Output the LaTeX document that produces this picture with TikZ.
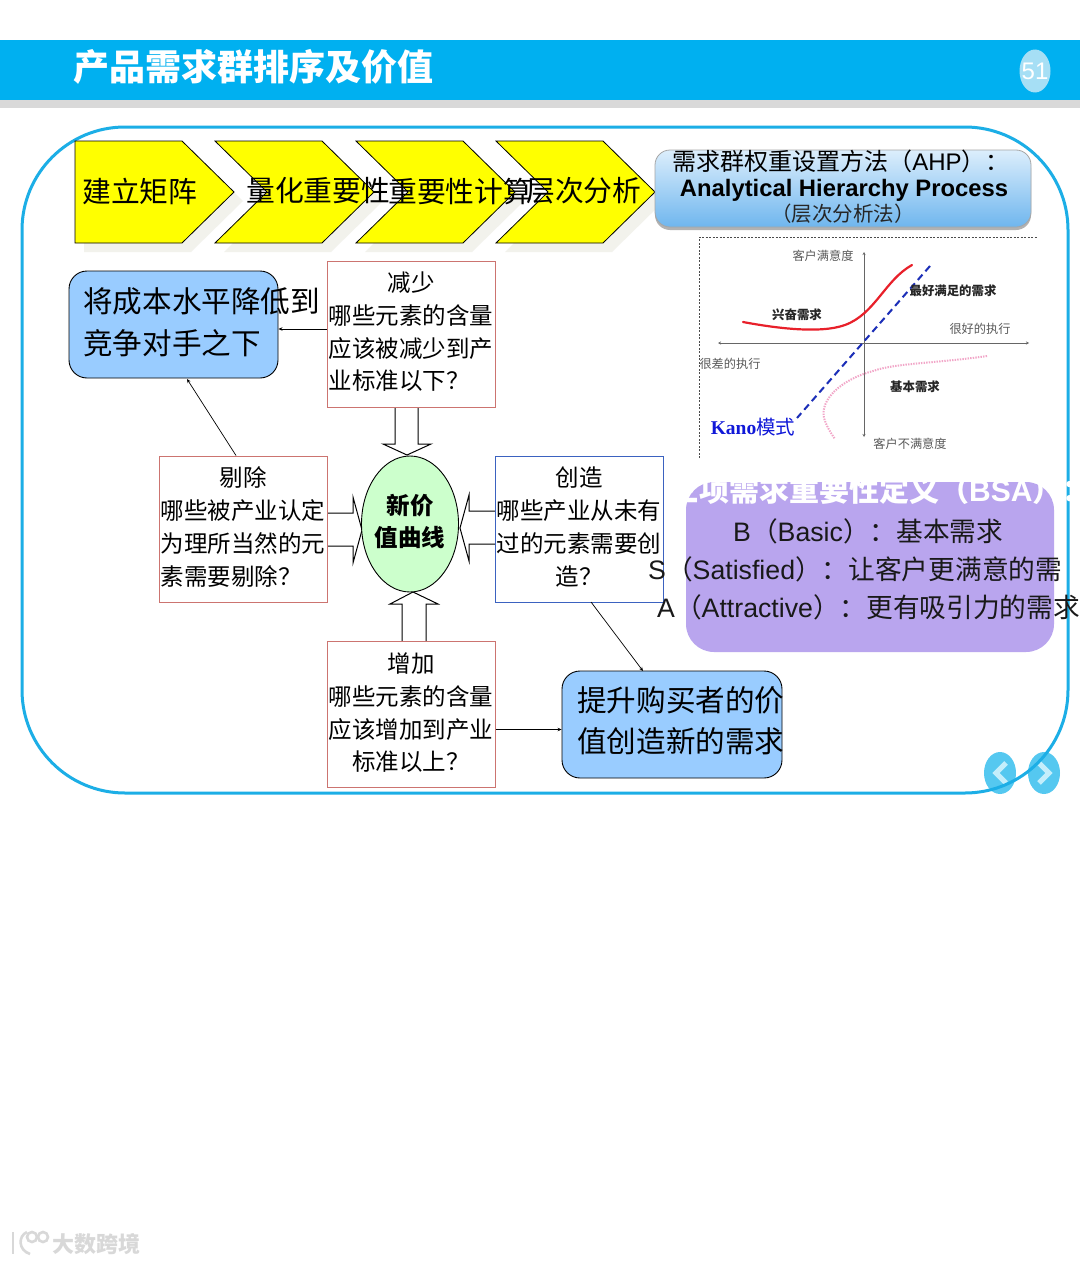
\documentclass[tikz,border=0pt]{standalone}
\usepackage{fontspec}
\setmainfont{Liberation Sans}
\newfontfamily\cjk{Noto Sans CJK SC}
\newfontfamily\latser{Liberation Serif}
\usetikzlibrary{shapes.geometric,arrows.meta}
\newcommand{\fsz}[2]{\fontsize{#1}{#2}\selectfont}
\newcommand{\zhtxt}[1]{{\cjk #1}}
\definecolor{headblue}{HTML}{00B0F0}
\definecolor{headgray}{HTML}{D9D9D9}
\definecolor{framecol}{HTML}{1CAEE6}
\definecolor{pagecol}{HTML}{A6DFF5}
\definecolor{navcol}{HTML}{55C8F0}
\definecolor{navmark}{HTML}{C4EEFB}
\definecolor{boxred}{HTML}{CC7470}
\definecolor{boxblue}{HTML}{3B62C0}
\definecolor{skyfill}{HTML}{99CCFF}
\definecolor{purplefill}{HTML}{B9A5EE}
\definecolor{greenfill}{HTML}{CCFFCC}
\definecolor{shadowcol}{HTML}{F2F2EC}
\definecolor{wmgray}{HTML}{D8D8D8}
\definecolor{chevyellow}{HTML}{FFFF00}
\definecolor{ahptop}{HTML}{DCEEFC}
\definecolor{ahpbot}{HTML}{6FB6EE}
\definecolor{curvered}{HTML}{E8202A}
\definecolor{curveblue}{HTML}{1C2FB8}
\definecolor{curvepink}{HTML}{F2A6C8}
\definecolor{kanoblue}{HTML}{1018D8}
\tikzset{
  chevronshape/.style={draw=black,fill=chevyellow,line width=0.8pt},
  chevshadow/.style={fill=shadowcol},
  chevtext/.style={font=\cjk\fsz{28.8}{33},inner sep=0pt,text=black},
  qbox/.style={draw=#1,line width=1pt,minimum width=168pt,minimum height=146pt,inner sep=0pt},
  qtext/.style={font=\cjk\fsz{23.5}{32.7},align=center,inner sep=0pt,text width=170pt},
  skybox/.style={draw=black,line width=0.9pt,fill=skyfill,rounded corners=18pt,inner sep=0pt},
  skytext/.style={font=\cjk\fsz{29.6}{41.5},align=left,inner sep=0pt,anchor=west},
  blockarrow/.style={draw=black,fill=white,line width=1pt,line join=miter},
  thinarrow/.style={draw=black,line width=0.7pt,-{Stealth[length=4pt,width=3.5pt]}},
  kanolabel/.style={font=\cjk\fsz{12.2}{14},text=black!65,inner sep=0pt},
  kanobold/.style={font=\cjk\bfseries\fsz{12.4}{14},text=black!85,inner sep=0pt},
  kanoaxis/.style={draw=black!60,line width=1pt,{Stealth[length=3pt,width=3pt]}-{Stealth[length=3pt,width=3pt]}},
  purpletext/.style={font=\fsz{26.7}{30},inner sep=0pt,text=black!90,anchor=west},
}
\begin{document}
\begin{tikzpicture}[x=1pt,y=-1pt]
\useasboundingbox (0,0) rectangle (1080,1263);
\fill[white] (0,0) rectangle (1080,1263);
% header
\fill[headgray] (0,100) rectangle (1080,108);
\fill[headblue] (0,40) rectangle (1080,100);
\node[font=\cjk\bfseries\fsz{36}{40},text=white,anchor=west,inner sep=0pt] (title) at (73,67) {产品需求群排序及价值};
\node[ellipse,fill=pagecol,minimum width=31pt,minimum height=43pt,inner sep=-6pt,text=white,font=\fsz{24}{26}] (pagenum) at (1035,71) {51};
% nav buttons beneath frame
\node[ellipse,fill=navcol,minimum width=32pt,minimum height=42pt,inner sep=0pt] (navl) at (1000,773) {};
\node[ellipse,fill=navcol,minimum width=32pt,minimum height=42pt,inner sep=0pt] (navr) at (1044,773) {};
\draw[navmark,line width=5pt] (1006,763) -- (996,773) -- (1006,783);
\draw[navmark,line width=5pt] (1039,763) -- (1049,773) -- (1039,783);
% main frame
\draw[framecol,line width=3pt,rounded corners=103pt] (22,127) rectangle (1068,793);
% chevrons
\fill[chevshadow] (84,150) -- (191,150) -- (243,201) -- (191,252) -- (84,252) -- cycle;
\foreach \d in {0,141,281}{
  \fill[chevshadow,xshift=\d pt] (224,150) -- (331,150) -- (383,201) -- (331,252) -- (224,252) -- (276,201) -- cycle;
}
\draw[chevronshape] (75,141) -- (182,141) -- (234,192) -- (182,243) -- (75,243) -- cycle;
\foreach \d in {0,141,281}{
  \draw[chevronshape,xshift=\d pt] (215,141) -- (322,141) -- (374,192) -- (322,243) -- (215,243) -- (267,192) -- cycle;
}
\node[chevtext,anchor=west] (c1) at (82,191) {建立矩阵};
\node[chevtext,anchor=west] (c2) at (246,191) {量化重要性};
\node[chevtext,anchor=west] (c3) at (388,191) {重要性计算};
\node[chevtext,anchor=west] (c4) at (526,191) {层次分析};
% AHP box
\fill[black!30,rounded corners=15pt] (655,153) rectangle (1031,230);
\draw[draw=black!35,top color=ahptop,bottom color=ahpbot,rounded corners=15pt,line width=0.8pt] (655,150) rectangle (1031,227);
\node[font=\fsz{24}{26},inner sep=0pt] (ahp1) at (841,161) {{\cjk 需求群权重设置方法（}AHP{\cjk ）：}};
\node[font=\bfseries\fsz{23.8}{27},inner sep=0pt] (ahp2) at (844,190) {Analytical Hierarchy Process};
\node[font=\cjk\fsz{20.5}{22},inner sep=0pt,text=black!85] (ahp3) at (843,214) {（层次分析法）};
% Kano
\draw[black!70,line width=0.6pt,dash pattern=on 2pt off 1.5pt] (699,458) -- (699,237) -- (1038,237);
\coordinate (axL) at (718,343);
\coordinate (axR) at (1029,343);
\coordinate (axT) at (864,252);
\coordinate (axB) at (864,437);
\draw[kanoaxis] (axL) -- (axR);
\draw[kanoaxis] (axT) -- (axB);
\draw[curvered,line width=2.2pt,line cap=round] (743,322) .. controls (775,328) and (820,334) .. (845,325) .. controls (875,314) and (885,280) .. (912,265);
\draw[curveblue,line width=2pt,dash pattern=on 7pt off 4.5pt] (930,266) -- (797,418);
\draw[curvepink,line width=2pt,dash pattern=on 1.4pt off 1.2pt] (987,356) .. controls (940,363) and (895,363) .. (873,371) .. controls (840,380) and (820,400) .. (824,418) .. controls (826,425) and (830,432) .. (835,439);
\node[kanolabel] (k1) at (823,256) {客户满意度};
\node[kanobold] (k2) at (953,291) {最好满足的需求};
\node[kanobold] (k3) at (797,315) {兴奋需求};
\node[kanolabel] (k4) at (980,329) {很好的执行};
\node[kanolabel] (k5) at (730,364) {很差的执行};
\node[kanobold] (k6) at (915,387) {基本需求};
\node[font=\fsz{19.5}{22},text=kanoblue,inner sep=0pt] (k7) at (753,427) {{\latser\bfseries Kano}{\cjk 模式}};
\node[kanolabel] (k8) at (910,444) {客户不满意度};
% block arrows
\draw[blockarrow] (395,407) -- (395,444) -- (383,444) -- (407,455) -- (431,444) -- (418,444) -- (418,407);
\draw[blockarrow] (402,641) -- (402,604) -- (390,604) -- (413,592) -- (438,604) -- (426,604) -- (426,641);
\draw[blockarrow] (327,513) -- (353,513) -- (353,497) -- (362,530) -- (353,563) -- (353,546) -- (327,546);
\draw[blockarrow] (495,511) -- (469,511) -- (469,495) -- (460,528) -- (469,561) -- (469,544) -- (495,544);
% centre ellipse
\node[ellipse,draw=black,fill=greenfill,line width=0.9pt,minimum width=97pt,minimum height=136pt,inner sep=0pt] (curve) at (410,524) {};
\node[font=\cjk\bfseries\fsz{23.5}{32},align=center,inner sep=0pt] (curvetext) at (410,521) {新价\\值曲线};
% question boxes
\node[qbox=boxred] (reduce) at (411,334) {};
\node[qtext] (reducet) at (411,332) {减少\\哪些元素的含量\\应该被减少到产\\\makebox[165pt][l]{业标准以下？}};
\node[qbox=boxred] (elim) at (243,529) {};
\node[qtext] (elimt) at (243,527) {剔除\\哪些被产业认定\\为理所当然的元\\\makebox[165pt][l]{素需要剔除？}};
\node[qbox=boxblue] (create) at (579,529) {};
\node[qtext] (createt) at (579,527) {创造\\哪些产业从未有\\过的元素需要创\\造？};
\node[qbox=boxred] (raise) at (411,714.5) {};
\node[qtext] (raiset) at (411,713) {增加\\哪些元素的含量\\应该增加到产业\\标准以上？};
% sky boxes
\node[skybox,minimum width=209pt,minimum height=107pt] (costbox) at (173.5,324.5) {};
\node[skytext] (costtext) at (83,322) {将成本水平降低到\\竞争对手之下};
\node[skybox,minimum width=220pt,minimum height=107pt] (valuebox) at (672,724.5) {};
\node[skytext] (valuetext) at (577,720.5) {提升购买者的价\\值创造新的需求};
% connectors
\draw[thinarrow] ([yshift=5pt]reduce.west) -- ([yshift=5pt]reduce.west -| costbox.east);
\draw[thinarrow] (elim.north -| 236,0) -- (187,379);
\draw[thinarrow] ([yshift=-15pt]raise.east) -- ([yshift=-15pt]raise.east -| valuebox.west);
\draw[thinarrow] (591,602) -- (643,671);
% purple box
\fill[purplefill,rounded corners=28pt] (686,482) rectangle (1054,652);
\node[font=\bfseries\fsz{30}{32},text=white,inner sep=0pt,anchor=west] (bsa0) at (669,490) {{\cjk\bfseries 三项需求重要性定义（}BSA{\cjk\bfseries ）：}};
\node[purpletext] (bsa1) at (733,531) {B\zhtxt{（}Basic\zhtxt{）：基本需求}};
\node[purpletext] (bsa2) at (648,569) {S\zhtxt{（}Satisfied\zhtxt{）：让客户更满意的需}};
\node[purpletext] (bsa3) at (657,607) {A\zhtxt{（}Attractive\zhtxt{）：更有吸引力的需求}};
% watermark
\begin{scope}[wmgray,line width=2.6pt]
\draw (13,1232) -- (13,1254);
\draw (27,1232) .. controls (18,1236) and (18,1250) .. (30,1254);
\draw (32,1237) circle (5pt);
\draw (43,1237) circle (5pt);
\end{scope}
\node[font=\cjk\bfseries\fsz{22}{24},text=wmgray,inner sep=0pt] (wm) at (96,1244) {大数跨境};
\end{tikzpicture}
\end{document}
